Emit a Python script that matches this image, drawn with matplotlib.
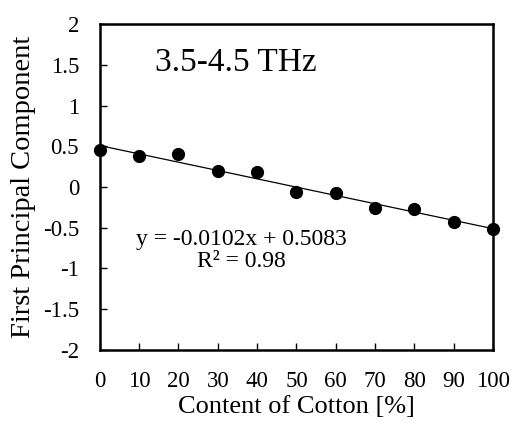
import numpy as np
import matplotlib
matplotlib.use("Agg")
import matplotlib.pyplot as plt

# Data
cotton = [0, 10, 20, 30, 40, 50, 60, 70, 80, 90, 100]
pc1 = [0.46, 0.38, 0.41, 0.20, 0.18, -0.06, -0.07, -0.26, -0.27, -0.43, -0.52]
slope = -0.0102
intercept = 0.5083
r2 = 0.98

x_ticks = [0, 10, 20, 30, 40, 50, 60, 70, 80, 90, 100]
y_ticks = [-2, -1.5, -1, -0.5, 0, 0.5, 1, 1.5, 2]
y_tick_labels = ["-2", "-1.5", "-1", "-0.5", "0", "0.5", "1", "1.5", "2"]

plt.rcParams['font.family'] = ['Liberation Serif', 'DejaVu Serif']

fig = plt.figure(figsize=(5.12, 4.25), dpi=100)
ax = fig.add_axes([0.195, 0.1765, 0.768, 0.767])

# Trend line
fit_x = np.array([cotton[0], cotton[-1]])
ax.plot(fit_x, slope * fit_x + intercept, color='black', linewidth=0.9, clip_on=False)

# Points
ax.plot(cotton, pc1, 'o', color='black', markersize=8.5, clip_on=False, zorder=3)

ax.set_xlim(0, 100)
ax.set_ylim(-2, 2)
ax.set_xticks(x_ticks)
ax.set_yticks(y_ticks)
ax.set_yticklabels(y_tick_labels)
ax.tick_params(direction='in', length=5, width=1, labelsize=16.5, pad=15)

for s in ax.spines.values():
    s.set_linewidth(1.8)

ax.set_xlabel('Content of Cotton [%]', fontsize=19, labelpad=3)
ax.set_ylabel('First Principal Component', fontsize=20.5, labelpad=5)

ax.text(0.14, 0.88, '3.5-4.5 THz', transform=ax.transAxes, fontsize=24,
        ha='left', va='center')
ax.text(0.359, 0.305, 'y = -0.0102x + 0.5083\nR\u00b2 = %.2f' % r2, transform=ax.transAxes,
        fontsize=17, ha='center', va='center', multialignment='center', linespacing=1.05)

fig.savefig('out.png', dpi=100)
